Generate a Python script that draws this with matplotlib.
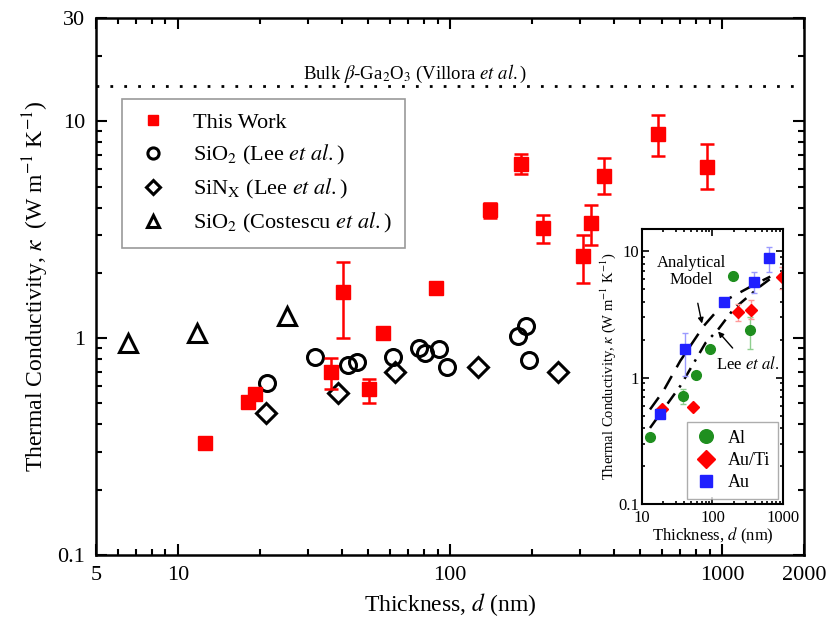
import numpy as np
import matplotlib
matplotlib.use('Agg')
import matplotlib.pyplot as plt
from matplotlib.ticker import FixedLocator, LogLocator, NullFormatter, FixedFormatter

plt.rcParams['font.family'] = ['Liberation Serif', 'DejaVu Serif']
plt.rcParams['mathtext.fontset'] = 'stix'

# This work (red squares) with asymmetric error bars
tw_d = [12.6, 18.1, 19.2, 36.5, 40.4, 50.4, 56.7, 88.9, 140, 182, 220, 308, 330, 368, 582, 881]
tw_k = [0.33, 0.51, 0.55, 0.70, 1.63, 0.58, 1.06, 1.70, 3.9, 6.36, 3.22, 2.39, 3.4, 5.6, 8.75, 6.17]
tw_lo = [0.33, 0.48, 0.52, 0.58, 1.00, 0.50, 1.00, 1.66, 3.6, 5.7, 2.75, 1.8, 2.7, 4.6, 6.9, 4.9]
tw_hi = [0.33, 0.54, 0.58, 0.81, 2.25, 0.65, 1.12, 1.74, 4.2, 7.1, 3.7, 3.0, 4.1, 6.8, 10.7, 7.9]

# SiO2 (Lee et al.)
lee_sio2_d = [21.2, 31.9, 42.2, 45.5, 61.7, 76.9, 80.9, 91.1, 97.5, 178, 190, 195]
lee_sio2_k = [0.62, 0.82, 0.75, 0.78, 0.82, 0.90, 0.85, 0.89, 0.74, 1.02, 1.14, 0.79]

# SiNx (Lee et al.)
lee_sinx_d = [21.1, 38.8, 62.8, 127, 249]
lee_sinx_k = [0.45, 0.56, 0.70, 0.74, 0.70]

# SiO2 (Costescu et al.)
cos_d = [6.55, 11.8, 25.2]
cos_k = [0.95, 1.06, 1.27]

bulk_k = 14.6

# inset data
al_d = [12.8, 37.8, 58.3, 91, 195, 336]
al_k = [0.34, 0.71, 1.05, 1.69, 6.4, 2.4]
al_lo = [0.34, 0.62, 1.05, 1.69, 6.0, 1.7]
al_hi = [0.34, 0.82, 1.05, 1.69, 6.8, 3.0]
auti_d = [19.2, 52.9, 230, 356, 968]
auti_k = [0.56, 0.59, 3.3, 3.46, 6.27]
auti_lo = [0.56, 0.59, 2.8, 2.9, 5.0]
auti_hi = [0.56, 0.59, 3.8, 4.1, 7.5]
au_d = [18.2, 41.2, 147, 384, 627]
au_k = [0.52, 1.67, 3.96, 5.7, 8.86]
au_lo = [0.52, 1.03, 3.96, 4.7, 6.9]
au_hi = [0.52, 2.24, 3.96, 6.9, 10.8]

model_d = [13, 20, 35, 75, 160, 430, 660]
model_k = [0.56, 0.78, 1.36, 2.56, 4.15, 5.6, 6.3]
leefit_d = [13, 35, 80, 120, 200, 480, 700]
leefit_k = [0.40, 0.86, 1.89, 2.4, 3.5, 5.3, 6.2]

fig = plt.figure(figsize=(8.29, 6.29), dpi=100)
ax = fig.add_axes([0.1158, 0.1176, 0.854, 0.854])

def errs(k, lo, hi):
    k = np.array(k)
    return [k - np.array(lo), np.array(hi) - k]

ax.plot(tw_d, tw_k, 's', color='red', ms=10, label='This Work', zorder=4)
ax.errorbar(tw_d, tw_k, yerr=errs(tw_k, tw_lo, tw_hi), fmt='none',
            ecolor='red', elinewidth=1.8, capsize=5, capthick=1.8, zorder=3)
ax.plot(lee_sio2_d, lee_sio2_k, 'o', ms=11.5, mfc='none', mec='black', mew=2.2,
        label='SiO$_2$ (Lee $\\mathit{et\\ al.}$)')
ax.plot(lee_sinx_d, lee_sinx_k, 'D', ms=10, mfc='none', mec='black', mew=2.2,
        label='SiN$_\\mathrm{X}$ (Lee $\\mathit{et\\ al.}$)')
ax.plot(cos_d, cos_k, '^', ms=12.5, mfc='none', mec='black', mew=2.2,
        label='SiO$_2$ (Costescu $\\mathit{et\\ al.}$)')

ax.axhline(bulk_k, color='black', lw=2, ls=(0, (1, 4)))
ax.text(0.45, 0.896, 'Bulk $\\beta$-Ga$_2$O$_3$ (Villora $\\mathit{et\\ al.}$)',
        transform=ax.transAxes, ha='center', va='center', fontsize=13.5)

ax.set_xscale('log')
ax.set_yscale('log')
ax.set_xlim(5, 2000)
ax.set_ylim(0.1, 30)
ax.xaxis.set_major_locator(FixedLocator([5, 10, 100, 1000, 2000]))
ax.xaxis.set_major_formatter(FixedFormatter(['5', '10', '100', '1000', '2000']))
ax.xaxis.set_minor_locator(LogLocator(base=10, subs=np.arange(2, 10)))
ax.xaxis.set_minor_formatter(NullFormatter())
ax.yaxis.set_major_locator(FixedLocator([0.1, 1, 10, 30]))
ax.yaxis.set_major_formatter(FixedFormatter(['0.1', '1', '10', '30']))
ax.yaxis.set_minor_locator(LogLocator(base=10, subs=np.arange(2, 10)))
ax.yaxis.set_minor_formatter(NullFormatter())
ax.tick_params(which='both', direction='in', top=True, right=True, labelsize=16, width=1.5)
ax.tick_params(which='major', length=8, pad=8)
ax.tick_params(which='minor', length=4)
for s in ax.spines.values():
    s.set_linewidth(1.8)
ax.set_xlabel('Thickness, $\\mathit{d}$ (nm)', fontsize=17)
ax.set_ylabel('Thermal Conductivity, $\\kappa$  (W m$^{-1}$ K$^{-1}$)', fontsize=17)

leg = ax.legend(loc='upper left', bbox_to_anchor=(0.037, 0.849), borderaxespad=0, fontsize=16,
                frameon=True, fancybox=False, edgecolor='0.5', handletextpad=1.0, borderpad=0.6,
                labelspacing=0.45, handlelength=1.6, markerscale=0.7)
leg.get_frame().set_linewidth(1.2)

# inset
ins = fig.add_axes([0.7744, 0.1987, 0.1701, 0.4372])
ins.plot(model_d, model_k, color='black', lw=1.8, ls=(0, (6, 4)))
ins.plot(leefit_d, leefit_k, color='black', lw=1.8, ls=(0, (5, 3, 1, 3)))
ins.errorbar(al_d, al_k, yerr=errs(al_k, al_lo, al_hi), fmt='none',
             ecolor='#8fcf8f', elinewidth=1, capsize=2)
ins.errorbar(auti_d, auti_k, yerr=errs(auti_k, auti_lo, auti_hi), fmt='none',
             ecolor='#ff9a9a', elinewidth=1, capsize=2)
ins.errorbar(au_d, au_k, yerr=errs(au_k, au_lo, au_hi), fmt='none',
             ecolor='#9a9aff', elinewidth=1, capsize=2)
ins.plot(al_d, al_k, 'o', color='#1f8f1f', ms=7, label='Al')
ins.plot(auti_d, auti_k, 'D', color='red', ms=6.5, label='Au/Ti')
ins.plot(au_d, au_k, 's', color='#2020ff', ms=6.5, label='Au')
ins.set_xscale('log')
ins.set_yscale('log')
ins.set_xlim(10, 1000)
ins.set_ylim(0.1, 15)
ins.xaxis.set_major_locator(FixedLocator([10, 100, 1000]))
ins.xaxis.set_major_formatter(FixedFormatter(['10', '100', '1000']))
ins.xaxis.set_minor_locator(LogLocator(base=10, subs=np.arange(2, 10)))
ins.xaxis.set_minor_formatter(NullFormatter())
ins.yaxis.set_major_locator(FixedLocator([0.1, 1, 10]))
ins.yaxis.set_major_formatter(FixedFormatter(['0.1', '1', '10']))
ins.yaxis.set_minor_locator(LogLocator(base=10, subs=np.arange(2, 10)))
ins.yaxis.set_minor_formatter(NullFormatter())
ins.tick_params(which='both', direction='in', top=True, right=True, labelsize=12, width=1.2)
ins.tick_params(axis='x', pad=4)
ins.tick_params(axis='y', pad=2)
ins.tick_params(which='major', length=5)
ins.tick_params(which='minor', length=2.5)
for s in ins.spines.values():
    s.set_linewidth(1.5)
ins.set_xlabel('Thickness, $\\mathit{d}$ (nm)', fontsize=12, labelpad=0)
ins.set_ylabel('Thermal Conductivity, $\\kappa$ (W m$^{-1}$ K$^{-1}$)', fontsize=10.5, labelpad=0)
ins.annotate('Analytical\nModel', xy=(71, 2.68), xytext=(50, 6.9), fontsize=12,
             ha='center', va='center', linespacing=1.1,
             arrowprops=dict(arrowstyle='-|>', color='black', lw=1, mutation_scale=8,
                             shrinkA=9, shrinkB=0))
ins.annotate('Lee $\\mathit{et\\ al.}$', xy=(120, 2.32), xytext=(310, 1.27), fontsize=12,
             ha='center', va='center',
             arrowprops=dict(arrowstyle='-|>', color='black', lw=1, mutation_scale=8,
                             shrinkA=5, shrinkB=0))
ileg = ins.legend(loc='lower right', fontsize=13, frameon=True, fancybox=False, edgecolor='0.6',
                  handletextpad=0.5, borderpad=0.4, labelspacing=0.3, handlelength=1.4,
                  markerscale=1.4, borderaxespad=0.3)
ileg.get_frame().set_linewidth(1)

fig.savefig('out.png', dpi=100)
